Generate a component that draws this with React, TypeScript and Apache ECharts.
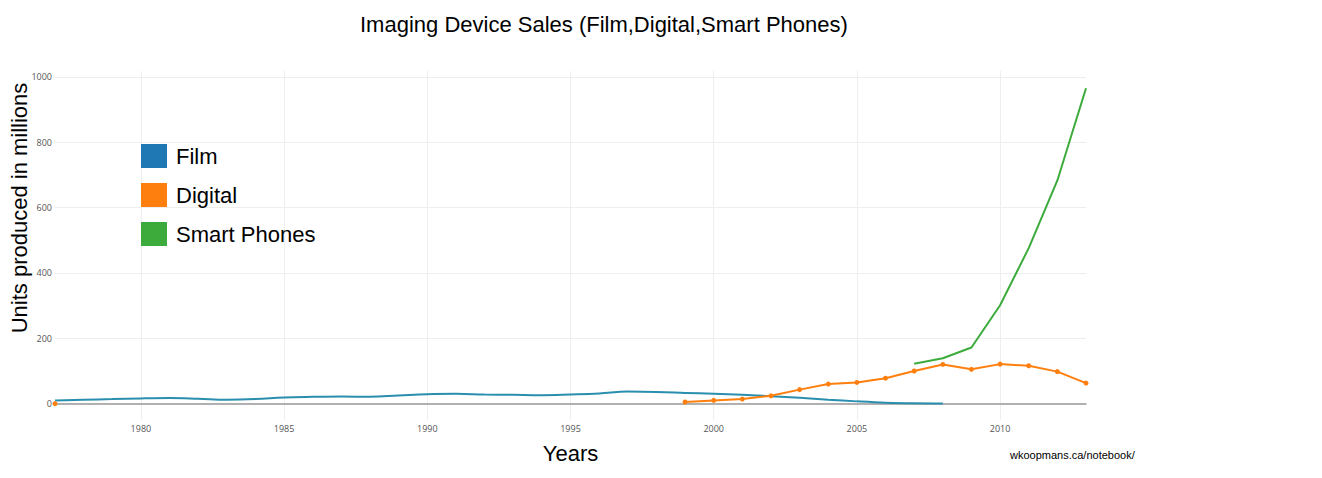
import React, { useEffect, useRef } from "react";
import * as echarts from "echarts";

const title = "Imaging Device Sales (Film,Digital,Smart Phones)";
const xAxisTitle = "Years";
const yAxisTitle = "Units produced in millions";
const footnote = "wkoopmans.ca/notebook/";

const seriesNames = ["Film", "Digital", "Smart Phones"];
const legendColors = ["#1f77b4", "#ff7f0e", "#3cab3c"];

const xTicks = [1980, 1985, 1990, 1995, 2000, 2005, 2010];
const yTicks = [0, 200, 400, 600, 800, 1000];

const filmYears = [1977, 1978, 1979, 1980, 1981, 1982, 1983, 1984, 1985, 1986, 1987, 1988, 1989, 1990, 1991, 1992, 1993, 1994, 1995, 1996, 1997, 1998, 1999, 2000, 2001, 2002, 2003, 2004, 2005, 2006, 2007, 2008];
const filmValues = [10, 12, 14, 16, 17, 15, 12, 14, 19, 21, 22, 21, 25, 29, 30, 28, 27, 26, 28, 31, 37, 36, 33, 30, 27, 23, 18, 12, 7, 3, 1, 0.5];

const digitalYears = [1977, 1978, 1999, 2000, 2001, 2002, 2003, 2004, 2005, 2006, 2007, 2008, 2009, 2010, 2011, 2012, 2013];
const digitalValues = [0, null, 5, 10, 14, 24, 43, 60, 65, 78, 100, 120, 105, 121, 116, 98, 63];

const phoneYears = [2007, 2008, 2009, 2010, 2011, 2012, 2013];
const phoneValues = [122, 139, 172, 301, 476, 683, 965];

const pairs = (xs: number[], ys: (number | null)[]) =>
  xs.map((x, i) => [x, ys[i] === null ? "-" : ys[i]]);

export default function App() {
  const ref = useRef<HTMLDivElement>(null);
  useEffect(() => {
    if (!ref.current) return;
    const chart = echarts.init(ref.current, null, { renderer: "svg" });
    const gridColor = "#eeeeee";
    chart.setOption({
      animation: false,
      backgroundColor: "#ffffff",
      title: {
        text: title,
        left: 355,
        top: 8,
        textStyle: {
          fontFamily: "Liberation Sans, Arial, sans-serif",
          fontSize: 22,
          fontWeight: "normal",
          color: "#000",
        },
      },
      legend: {
        orient: "vertical",
        left: 136,
        top: 139,
        itemWidth: 26,
        itemHeight: 24,
        itemGap: 15,
        icon: "rect",
        data: seriesNames.map((n, i) => ({
          name: n,
          itemStyle: { color: legendColors[i] },
        })),
        textStyle: {
          fontFamily: "Liberation Sans, Arial, sans-serif",
          fontSize: 22,
          color: "#000",
          padding: [0, 0, 0, 4],
        },
      },
      grid: {
        left: 55,
        right: 236,
        top: 71,
        bottom: 58,
        containLabel: false,
        outerBoundsMode: "none",
      },
      xAxis: {
        type: "value",
        min: 1977,
        max: 2013,
        name: xAxisTitle,
        nameLocation: "middle",
        nameGap: 22,
        nameMoveOverlap: false,
        nameTextStyle: {
          fontFamily: "Liberation Sans, Arial, sans-serif",
          fontSize: 22,
          color: "#000",
        },
        axisLine: { show: true, onZero: true, lineStyle: { color: "#999", width: 1.5 } },
        axisTick: { show: false, customValues: xTicks },
        axisLabel: {
          customValues: xTicks,
          formatter: (v: number) => String(v),
          fontFamily: "Open Sans, sans-serif",
          fontSize: 9,
          color: "#555",
          margin: 4,
        },
        splitLine: { show: true, lineStyle: { color: gridColor, width: 1 } },
      },
      yAxis: {
        type: "value",
        min: -50,
        max: 1018,
        axisLine: { show: false },
        axisTick: { show: false, customValues: yTicks },
        axisLabel: {
          customValues: yTicks,
          formatter: (v: number) => String(v),
          fontFamily: "Open Sans, sans-serif",
          fontSize: 9,
          color: "#555",
          margin: 3,
        },
        splitLine: { show: true, lineStyle: { color: gridColor, width: 1 } },
      },
      graphic: [
        {
          type: "text",
          x: 19,
          y: 208,
          rotation: Math.PI / 2,
          style: {
            text: yAxisTitle,
            fontFamily: "Liberation Sans, Arial, sans-serif",
            fontSize: 22,
            fill: "#000",
            align: "center",
            verticalAlign: "middle",
          },
        },
        {
          type: "text",
          left: 1010,
          top: 449,
          style: {
            text: footnote,
            fontFamily: "Liberation Sans, Arial, sans-serif",
            fontSize: 11,
            fill: "#000",
          },
        },
      ],
      series: [
        {
          name: seriesNames[0],
          type: "line",
          data: pairs(filmYears, filmValues),
          smooth: 0.4,
          showSymbol: false,
          clip: false,
          itemStyle: { color: legendColors[0] },
          lineStyle: { color: "#2a8fae", width: 2 },
          z: 3,
        },
        {
          name: seriesNames[1],
          type: "line",
          data: pairs(digitalYears, digitalValues),
          connectNulls: false,
          symbol: "circle",
          symbolSize: 5,
          showSymbol: true,
          clip: false,
          itemStyle: { color: legendColors[1] },
          lineStyle: { color: legendColors[1], width: 2 },
          z: 4,
        },
        {
          name: seriesNames[2],
          type: "line",
          data: pairs(phoneYears, phoneValues),
          showSymbol: false,
          clip: false,
          itemStyle: { color: legendColors[2] },
          lineStyle: { color: legendColors[2], width: 2 },
          z: 5,
        },
      ],
    });
    return () => chart.dispose();
  }, []);
  return (
    <div
      ref={ref}
      style={{ position: "fixed", left: 0, top: 0, width: 1322, height: 478 }}
    />
  );
}
